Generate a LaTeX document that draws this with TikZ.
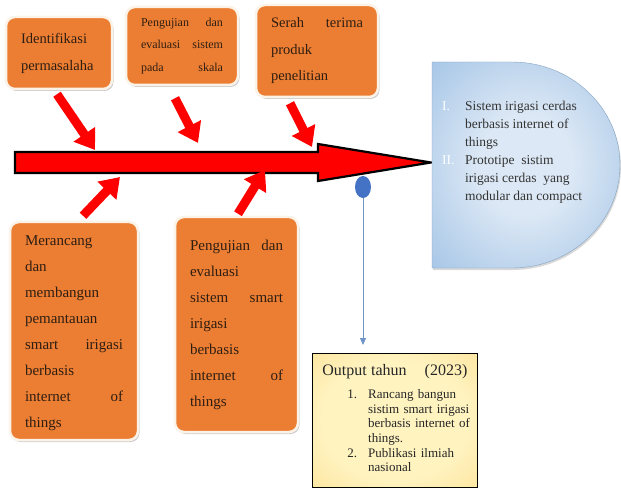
\documentclass[tikz,border=0pt]{standalone}
\usepackage{fontspec}
\setmainfont{Liberation Serif}
\usepackage{tikz}
\usetikzlibrary{arrows.meta}
\usetikzlibrary{shapes.geometric}
\usetikzlibrary{shadows}
\usetikzlibrary{positioning}
\definecolor{BoxOrange}{HTML}{EC7E33}
\definecolor{BoxRim}{HTML}{FCF3E8}
\definecolor{BoxText}{HTML}{2E1E12}
\definecolor{SpineRed}{HTML}{FF0000}
\definecolor{GoalBlue}{HTML}{9DC0E4}
\definecolor{GoalLight}{HTML}{DCE8F5}
\definecolor{DotBlue}{HTML}{4472C4}
\definecolor{LineBlue}{HTML}{7194C8}
\definecolor{NoteYellow}{HTML}{FFF3C0}
\definecolor{NoteMid}{HTML}{FCDE8E}
\definecolor{NoteOrange}{HTML}{F6BF55}
\pgfdeclareradialshading{goalfill}{\pgfpoint{0bp}{0bp}}{color(0bp)=(GoalLight); color(12bp)=(GoalLight); color(40bp)=(GoalBlue); color(72bp)=(GoalBlue)}
\pgfdeclareradialshading{notefill}{\pgfpoint{0bp}{0bp}}{color(0bp)=(NoteYellow); color(22bp)=(NoteYellow); color(45bp)=(NoteMid); color(72bp)=(NoteOrange)}

\begin{document}
\begin{tikzpicture}[x=1pt, y=-1pt,
    stepbox/.style={draw=BoxRim, line width=2.5pt, fill=BoxOrange,
      rounded corners=9pt, text=BoxText, align=left,
      inner xsep=15pt, inner ysep=0pt,
      drop shadow={shadow xshift=1.5pt, shadow yshift=-2pt, opacity=0.4}},
    feeder/.style={SpineRed, line width=9pt,
      -{Triangle[length=19pt, width=25pt]}},
    spine/.style={fill=SpineRed, draw=black, line width=2.2pt},
    goalshape/.style={shade, shading=goalfill, draw=GoalBlue!85!black, line width=0.4pt,
      drop shadow={shadow xshift=1pt, shadow yshift=-2pt, opacity=0.3}},
    notebox/.style={shade, shading=notefill, draw=black, line width=0.8pt,
      align=left, text width=145pt, inner xsep=10pt, text=black!85}]
    \useasboundingbox (0,0) rectangle (621,497);

    % main spine
    \draw[spine] (15,152) -- (318,152) -- (318,144) -- (431,162.5)
      -- (318,181) -- (318,173) -- (15,173) -- cycle;
    \coordinate (in1) at (95,150);
    \coordinate (in2) at (198,143);
    \coordinate (in3) at (312,147);
    \coordinate (in4) at (120,177);
    \coordinate (in5) at (265,170);

    % boxes above
    \node[stepbox, text width=76pt, minimum width=106pt, minimum height=72pt,
      font=\fontsize{14.5}{27}\selectfont] (ident) at (59,53)
      {Identifikasi\\permasalaha\\[-8pt]};
    \node[stepbox, text width=82pt, minimum width=112pt, minimum height=78pt,
      font=\fontsize{12}{22.5}\selectfont] (evalskala) at (182,46)
      {Pengujian\hfill dan\\evaluasi\hfill sistem\\pada\hfill skala};
    \node[stepbox, text width=92pt, minimum width=122pt, minimum height=92pt,
      font=\fontsize{14.5}{26.5}\selectfont] (serah) at (317,51)
      {Serah\hfill terima\\produk\\penelitian};

    % boxes below
    \node[stepbox, text width=98pt, minimum width=128pt, minimum height=218pt,
      font=\fontsize{15}{26.1}\selectfont] (rancang) at (74,331)
      {\\[-12pt]Merancang\\dan\\membangun\\pemantauan\\smart\hfill irigasi\\berbasis\\internet\hfill of\\things};
    \node[stepbox, text width=93pt, minimum width=123pt, minimum height=215pt,
      font=\fontsize{15}{26}\selectfont] (ujismart) at (236.5,324.5)
      {Pengujian\hfill dan\\evaluasi\\sistem\hfill smart\\irigasi\\berbasis\\internet\hfill of\\things};

    % feeding arrows
    \draw[feeder] ([xshift=-2pt,yshift=-4pt]ident.south) -- (in1);
    \draw[feeder] ([xshift=-7pt,yshift=-12pt]evalskala.south) -- (in2);
    \draw[feeder] ([xshift=-27pt,yshift=-5pt]serah.south) -- (in3);
    \draw[feeder] ([xshift=9pt,yshift=5pt]rancang.north) -- (in4);
    \draw[feeder] ([xshift=1.5pt,yshift=2pt]ujismart.north) -- (in5);

    % goal
    \draw[goalshape] (432,62) -- (512,62)
      arc[start angle=90, end angle=-90, x radius=108pt, y radius=103pt]
      -- (432,268) -- cycle;
    \node[anchor=north west, inner sep=0pt, text=black!80,
      font=\fontsize{13.5}{18}\selectfont] (goals) at (442,97.5)
      {\begin{tabular}{@{}l@{\hspace{10.5pt}}l@{}}
        \textcolor{white}{I.} & Sistem irigasi cerdas\\
          & berbasis internet of\\
          & things\\
        \textcolor{white}{II.} & Prototipe\ \ sistim\\
          & irigasi cerdas\ \ yang\\
          & modular dan compact
      \end{tabular}};

    % output
    \node[ellipse, fill=DotBlue, minimum width=16pt, minimum height=22pt,
      inner sep=0pt] (dot) at (363,187) {};
    \node[notebox, anchor=north west, minimum width=165pt, minimum height=134pt,
      font=\fontsize{13}{14.6}\selectfont] (output) at (312,353)
      {{\fontsize{16}{18}\selectfont Output tahun\hspace{18pt}(2023)}\\[8.4pt]
      \hspace*{25pt}\begin{tabular}[t]{@{}l@{\hspace{11pt}}l@{}}
        1. & Rancang bangun\\
           & sistim smart irigasi\\
           & berbasis internet of\\
           & things.\\
        2. & Publikasi ilmiah\\
           & nasional
      \end{tabular}};
    \draw[LineBlue, line width=0.8pt, -{Triangle[length=7pt, width=6pt]},
      shorten >=8pt] (dot.south) -- (dot.south |- output.north);
\end{tikzpicture}
\end{document}
